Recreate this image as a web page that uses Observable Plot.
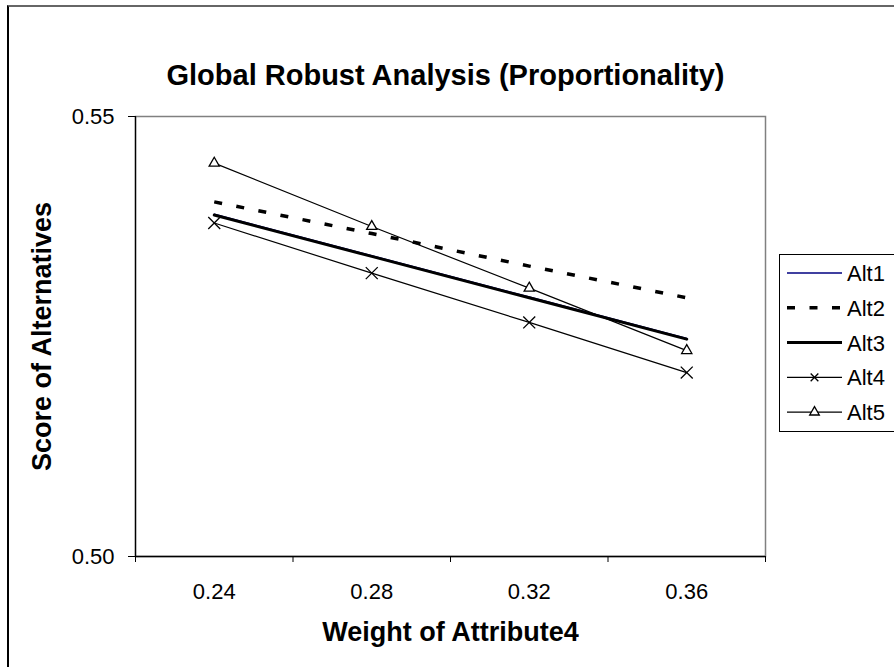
<!DOCTYPE html>
<html><head><meta charset="utf-8">
<script src="https://cdn.jsdelivr.net/npm/d3@7"></script>
<script src="https://cdn.jsdelivr.net/npm/@observablehq/plot@0.6"></script>
<style>
body{margin:0;background:#fff;font-family:"Liberation Sans",Arial,sans-serif;}
#wrap{position:relative;width:894px;height:667px;overflow:hidden;background:#fff;}
#frame{position:absolute;left:7px;top:5px;width:1000px;height:1000px;border-left:2px solid #000;border-top:2px solid #666;}
#chart{position:absolute;left:0;top:0;}
#legend{position:absolute;left:779px;top:254px;}
</style></head><body><div id="wrap"><div id="frame"></div><div id="chart"></div><svg id="legend" width="130" height="190"></svg></div>
<script>
const title = "Global Robust Analysis (Proportionality)";
const xTitle = "Weight of Attribute4";
const yTitle = "Score of Alternatives";
const weights = [0.24, 0.28, 0.32, 0.36];
const seriesNames = ["Alt1", "Alt2", "Alt3", "Alt4", "Alt5"];
const alt1 = [0.5389, 0.5342, 0.5295, 0.5248];
const alt2 = [0.5403, 0.5367, 0.5330, 0.5294];
const alt3 = [0.5388, 0.5341, 0.5294, 0.5247];
const alt4 = [0.5379, 0.5322, 0.5266, 0.5209];
const alt5 = [0.5447, 0.5375, 0.5305, 0.5234];
const yTicks = [0.50, 0.55];

const step = weights[1] - weights[0];
const xDomain = [weights[0] - step / 2, weights[weights.length - 1] + step / 2];
const separators = [xDomain[0], ...weights.slice(1).map(w => w - step / 2), xDomain[1]];
const rows = s => weights.map((w, i) => ({w, v: s[i]}));

const fontFamily = "Liberation Sans, Arial, sans-serif";
const chart = Plot.plot({
  width: 894, height: 667,
  marginLeft: 135, marginRight: 129, marginTop: 116, marginBottom: 111,
  style: {fontFamily, color: "#000", background: "transparent", overflow: "visible"},
  x: {type: "linear", domain: xDomain},
  y: {domain: yTicks},
  marks: [
    Plot.frame({stroke: "#808080", strokeWidth: 1.5}),
    Plot.ruleY([yTicks[0]], {stroke: "#000", strokeWidth: 1.3}),
    Plot.ruleX([xDomain[0]], {stroke: "#000", strokeWidth: 1.3}),
    Plot.axisY({ticks: yTicks, tickFormat: d3.format(".2f"), tickSize: 7, tickPadding: 14, fontSize: 22, label: null, stroke: "#000"}),
    Plot.axisX({ticks: separators, tickFormat: () => "", tickSize: 6, label: null, stroke: "#000"}),
    Plot.axisX({ticks: weights, tickFormat: d3.format(".2f"), tickSize: 0, tickPadding: 27, fontSize: 22, label: null}),
    Plot.line(rows(alt1), {x: "w", y: "v", stroke: "#000080", strokeWidth: 1.3}),
    Plot.line(rows(alt3), {x: "w", y: "v", stroke: "#000", strokeWidth: 3}),
    Plot.line(rows(alt2), {x: "w", y: "v", stroke: "#000", strokeWidth: 3.5, strokeDasharray: "8,14.5", strokeLinecap: "butt"}),
    Plot.line(rows(alt4), {x: "w", y: "v", stroke: "#000", strokeWidth: 1.2}),
    Plot.dot(rows(alt4), {x: "w", y: "v", symbol: "times", r: 5.5, stroke: "#000", strokeWidth: 1.3}),
    Plot.line(rows(alt5), {x: "w", y: "v", stroke: "#000", strokeWidth: 1.2}),
    Plot.dot(rows(alt5), {x: "w", y: "v", symbol: "triangle", r: 3.8, fill: "#fff", stroke: "#000", strokeWidth: 1.3}),
    Plot.text([title], {frameAnchor: "top", dx: -5, dy: -41, fontSize: 29, fontWeight: "bold", lineAnchor: "middle"}),
    Plot.text([xTitle], {frameAnchor: "bottom", dy: 76, fontSize: 27, fontWeight: "bold", lineAnchor: "middle"}),
    Plot.text([yTitle], {frameAnchor: "left", dx: -93, rotate: -90, textAnchor: "middle", fontSize: 27, fontWeight: "bold", lineAnchor: "middle"})
  ]
});
document.getElementById("chart").appendChild(chart);

// legend
const lg = d3.select("#legend");
lg.append("rect").attr("x", 0.5).attr("y", 0.5).attr("width", 160).attr("height", 177)
  .attr("fill", "#fff").attr("stroke", "#000").attr("stroke-width", 1);
const styles = [
  {stroke: "#000080", w: 1.3},
  {stroke: "#000", w: 3.5, dash: "8,14.5"},
  {stroke: "#000", w: 3},
  {stroke: "#000", w: 1.2, mark: "times"},
  {stroke: "#000", w: 1.2, mark: "triangle"}
];
seriesNames.forEach((name, i) => {
  const y = 19 + i * 34.8;
  const st = styles[i];
  lg.append("line").attr("x1", 8).attr("x2", 63).attr("y1", y).attr("y2", y)
    .attr("stroke", st.stroke).attr("stroke-width", st.w)
    .attr("stroke-dasharray", st.dash || null);
  if (st.mark === "times") {
    lg.append("path").attr("d", d3.symbol(d3.symbolTimes, 40)()).attr("transform", `translate(35.5,${y})`)
      .attr("stroke", "#000").attr("fill", "none").attr("stroke-width", 1.3);
  }
  if (st.mark === "triangle") {
    lg.append("path").attr("d", d3.symbol(d3.symbolTriangle, 40)()).attr("transform", `translate(35.5,${y})`)
      .attr("stroke", "#000").attr("fill", "#fff").attr("stroke-width", 1.3);
  }
  lg.append("text").attr("x", 68).attr("y", y).attr("dy", "0.36em")
    .attr("font-size", 22).attr("font-family", fontFamily).text(name);
});
</script></body></html>
